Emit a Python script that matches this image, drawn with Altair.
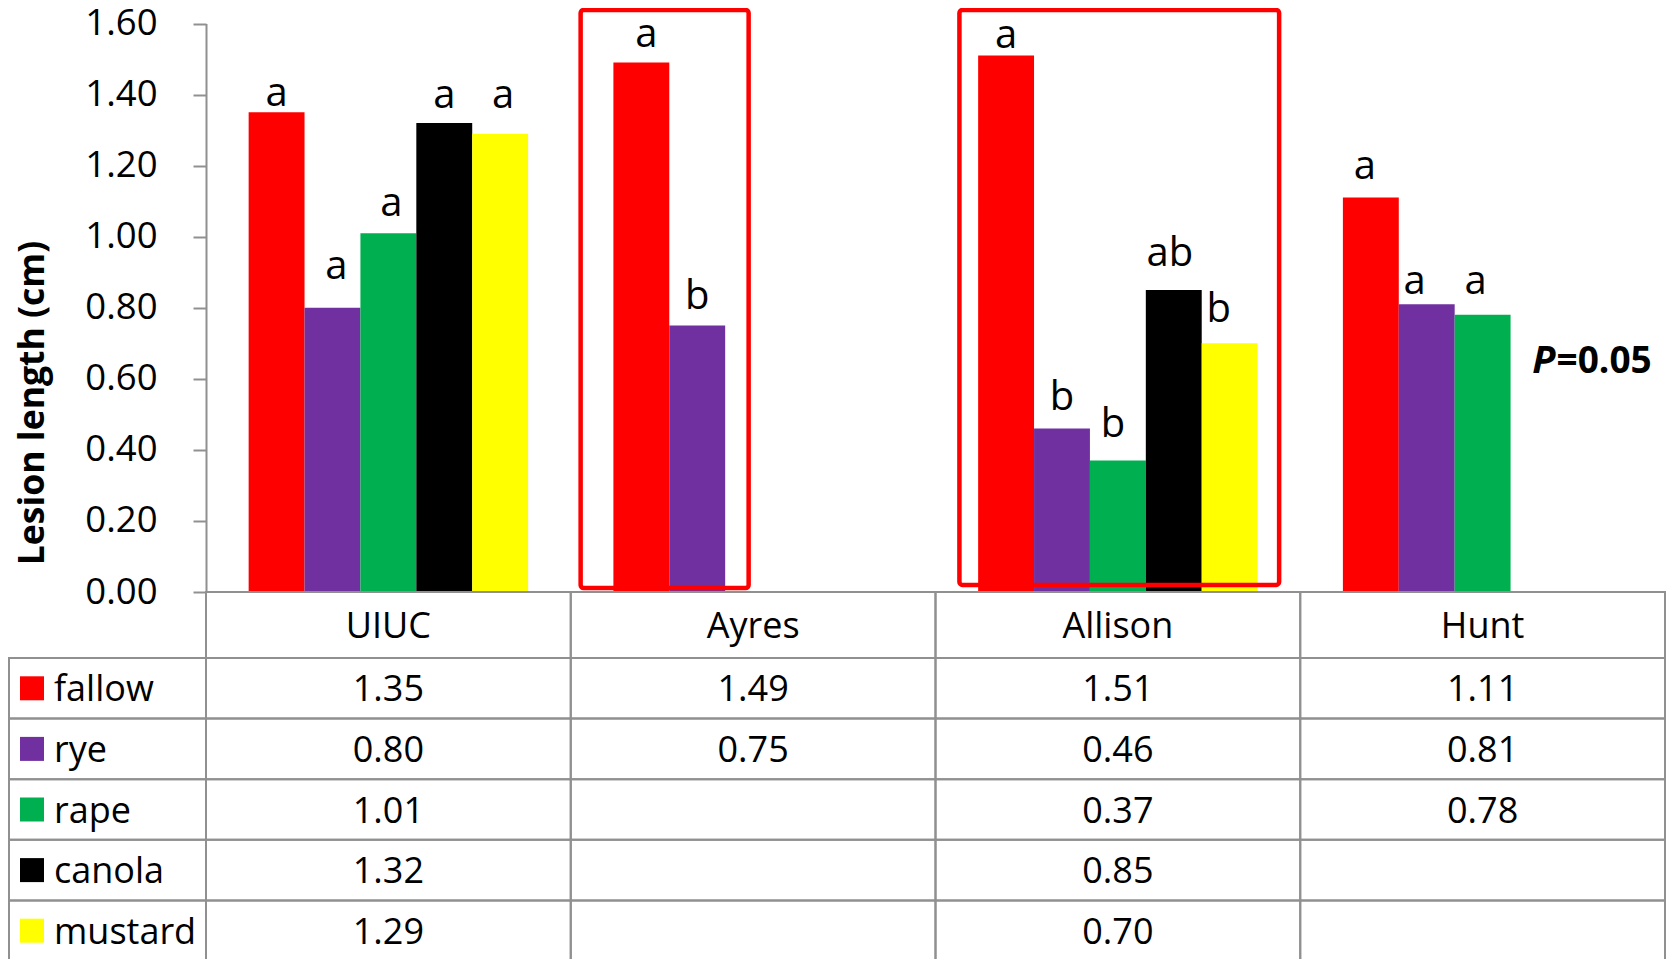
import altair as alt
import pandas as pd

# ---------------- data ----------------
sites = ["UIUC", "Ayres", "Allison", "Hunt"]
crops = ["fallow", "rye", "rape", "canola", "mustard"]
crop_colors = ["#FF0000", "#7030A0", "#00B050", "#000000", "#FFFF00"]

uiuc_vals = [1.35, 0.80, 1.01, 1.32, 1.29]
ayres_vals = [1.49, 0.75, None, None, None]
allison_vals = [1.51, 0.46, 0.37, 0.85, 0.70]
hunt_vals = [1.11, 0.81, 0.78, None, None]

uiuc_letters = ["a", "a", "a", "a", "a"]
ayres_letters = ["a", "b", None, None, None]
allison_letters = ["a", "b", "b", "ab", "b"]
hunt_letters = ["a", "a", "a", None, None]

# height (in axis units) at which each significance letter sits
uiuc_letter_y = [1.367, 0.880, 1.057, 1.363, 1.363]
ayres_letter_y = [1.534, 0.797, None, None, None]
allison_letter_y = [1.530, 0.513, 0.435, 0.918, 0.759]
hunt_letter_y = [1.163, 0.838, 0.838, None, None]
# small horizontal nudges of the letters (px)
uiuc_letter_dx = [0, 4, 3, 0, 3]
ayres_letter_dx = [5, 0, 0, 0, 0]
allison_letter_dx = [0, 0, -5, -4, -11]
hunt_letter_dx = [-6, -12, -7, 0, 0]

y_ticks = [0.0, 0.2, 0.4, 0.6, 0.8, 1.0, 1.2, 1.4, 1.6]
y_title = "Lesion length (cm)"

boxed_sites = ["Ayres", "Allison"]
box_top = [1.638, 1.638]
box_bottom = [0.011, 0.020]

p_italic = "P"
p_rest = "=0.05"
p_site = "Hunt"
p_slot = "canola"
p_value = 0.646

# ---------------- tables ----------------
rows = []
for site, vals, lets, lys, ldxs in zip(
        sites,
        [uiuc_vals, ayres_vals, allison_vals, hunt_vals],
        [uiuc_letters, ayres_letters, allison_letters, hunt_letters],
        [uiuc_letter_y, ayres_letter_y, allison_letter_y, hunt_letter_y],
        [uiuc_letter_dx, ayres_letter_dx, allison_letter_dx, hunt_letter_dx]):
    for crop, v, l, ly, ldx in zip(crops, vals, lets, lys, ldxs):
        rows.append({"site": site, "crop": crop, "value": v, "letter": l,
                     "ly": ly, "ldx": ldx,
                     "label": ("%.2f" % v) if v is not None else ""})
df = pd.DataFrame(rows)
bars_df = df.dropna(subset=["value"])
header_df = pd.DataFrame({"site": sites, "row": ["header"] * len(sites)})
legend_df = pd.DataFrame({"crop": crops, "col": ["legend"] * len(crops)})
box_df = pd.DataFrame({"site": boxed_sites, "top": box_top, "bottom": box_bottom})
p_df = pd.DataFrame({"site": [p_site], "slot": [p_slot], "value": [p_value],
                     "t1": [p_italic], "t2": [p_rest]})

FONT = "Open Sans"
GRAY = "#909090"
W, H = 1658, 951

X_SCALE = alt.Scale(domain=sites, range=[198, 1657], paddingInner=0, paddingOuter=0)
XOFF_SCALE = alt.Scale(domain=crops, paddingInner=0, paddingOuter=0.763)
Y_SCALE = alt.Scale(domain=[0, 1.6], range=[584, 15.5], nice=False, zero=True)
COLOR_SCALE = alt.Scale(domain=crops, range=crop_colors)

x_site = alt.X("site:N", scale=X_SCALE, axis=None, sort=sites)
x_off = alt.XOffset("crop:N", scale=XOFF_SCALE, sort=crops)

y_axis = alt.Axis(values=y_ticks, format=".2f", offset=-198,
                  domainColor=GRAY, domainWidth=2, tickColor=GRAY, tickWidth=2,
                  tickSize=13, labelFont=FONT, labelFontSize=36.5, labelColor="black",
                  labelPadding=36, labelFlush=False, labelOverlap=False, grid=False,
                  titleFont=FONT, titleFontSize=35.5, titleFontWeight="bold",
                  titleColor="black", titleX=-174, titleY=394.5, titleAngle=270,
                  titleBaseline="middle", titleAlign="center")

bars = alt.Chart(bars_df).mark_bar().encode(
    x=x_site, xOffset=x_off,
    y=alt.Y("value:Q", scale=Y_SCALE, axis=y_axis, title=y_title),
    color=alt.Color("crop:N", scale=COLOR_SCALE, legend=None),
)

letters = alt.Chart(bars_df).mark_text(font=FONT, fontSize=40, baseline="alphabetic",
                                       dx=alt.ExprRef("datum.ldx"), color="black").encode(
    x=x_site, xOffset=x_off, y=alt.Y("ly:Q", scale=Y_SCALE), text="letter:N"
)

ayres_box = alt.Chart(box_df).transform_filter(alt.datum.site == "Ayres").mark_bar(
    filled=False, color="#FF0000", strokeWidth=4.5, cornerRadius=3,
    width=168, xOffset=-88.5).encode(
    x=x_site, y=alt.Y("top:Q", scale=Y_SCALE), y2="bottom:Q")

allison_box = alt.Chart(box_df).transform_filter(alt.datum.site == "Allison").mark_bar(
    filled=False, color="#FF0000", strokeWidth=4.5, cornerRadius=3,
    width=319.7, xOffset=1.4).encode(
    x=x_site, y=alt.Y("top:Q", scale=Y_SCALE), y2="bottom:Q")

p_off = alt.XOffset("slot:N", scale=XOFF_SCALE, sort=crops)
p1 = alt.Chart(p_df).mark_text(font=FONT, fontSize=38, fontWeight="bold", fontStyle="italic",
                               align="right", baseline="middle", dx=17, color="black").encode(
    x=x_site, xOffset=p_off, y=alt.Y("value:Q", scale=Y_SCALE), text="t1:N")
p2 = alt.Chart(p_df).mark_text(font=FONT, fontSize=37, fontWeight="bold",
                               align="left", baseline="middle", dx=18, color="black").encode(
    x=x_site, xOffset=p_off, y=alt.Y("value:Q", scale=Y_SCALE), text="t2:N")

plot_layer = alt.layer(bars, letters, ayres_box, allison_box, p1, p2)

# header row of the data table
y_head = alt.Y("row:N", scale=alt.Scale(domain=["header"], range=[584, 650],
                                        paddingInner=0, paddingOuter=0), axis=None)
header_cells = alt.Chart(header_df).mark_rect(filled=False, color=GRAY, strokeWidth=2).encode(
    x=x_site, y=y_head)
header_text = alt.Chart(header_df).mark_text(font=FONT, fontSize=36, color="black",
                                             baseline="middle", dy=2).encode(
    x=x_site, y=y_head, text="site:N")
header_layer = alt.layer(header_cells, header_text)

# body rows of the data table
y_rows = alt.Y("crop:N", sort=crops, scale=alt.Scale(domain=crops, range=[650, 953],
                                                    paddingInner=0, paddingOuter=0), axis=None)
body_cells = alt.Chart(df).mark_rect(filled=False, color=GRAY, strokeWidth=2).encode(
    x=x_site, y=y_rows)
body_text = alt.Chart(df).mark_text(font=FONT, fontSize=36, color="black",
                                    baseline="middle", dy=2).encode(
    x=x_site, y=y_rows, text="label:N")
body_layer = alt.layer(body_cells, body_text)

# legend column of the data table
x_leg = alt.X("col:N", scale=alt.Scale(domain=["legend"], range=[1, 198],
                                       paddingInner=0, paddingOuter=0), axis=None)
x_leg0 = alt.X("col:N", bandPosition=0, scale=alt.Scale(domain=["legend"], range=[1, 198],
                                                        paddingInner=0, paddingOuter=0), axis=None)
legend_cells = alt.Chart(legend_df).mark_rect(filled=False, color=GRAY, strokeWidth=2).encode(
    x=x_leg, y=y_rows)
legend_sq = alt.Chart(legend_df).mark_square(size=576, opacity=1, xOffset=23).encode(
    x=x_leg0, y=y_rows, color=alt.Color("crop:N", scale=COLOR_SCALE, legend=None))
legend_text = alt.Chart(legend_df).mark_text(font=FONT, fontSize=36, color="black",
                                             align="left", baseline="middle", dx=45, dy=2).encode(
    x=x_leg0, y=y_rows, text="crop:N")
legend_layer = alt.layer(legend_cells, legend_sq, legend_text)

chart = alt.layer(plot_layer, header_layer, body_layer, legend_layer).resolve_scale(
    x="independent", y="independent"
).properties(
    width=W, height=H, padding=0,
    autosize=alt.AutoSizeParams(type="none", contains="padding"),
).configure_view(stroke=None)

chart.save("out.html", embed_options={"renderer": "svg", "actions": False})
